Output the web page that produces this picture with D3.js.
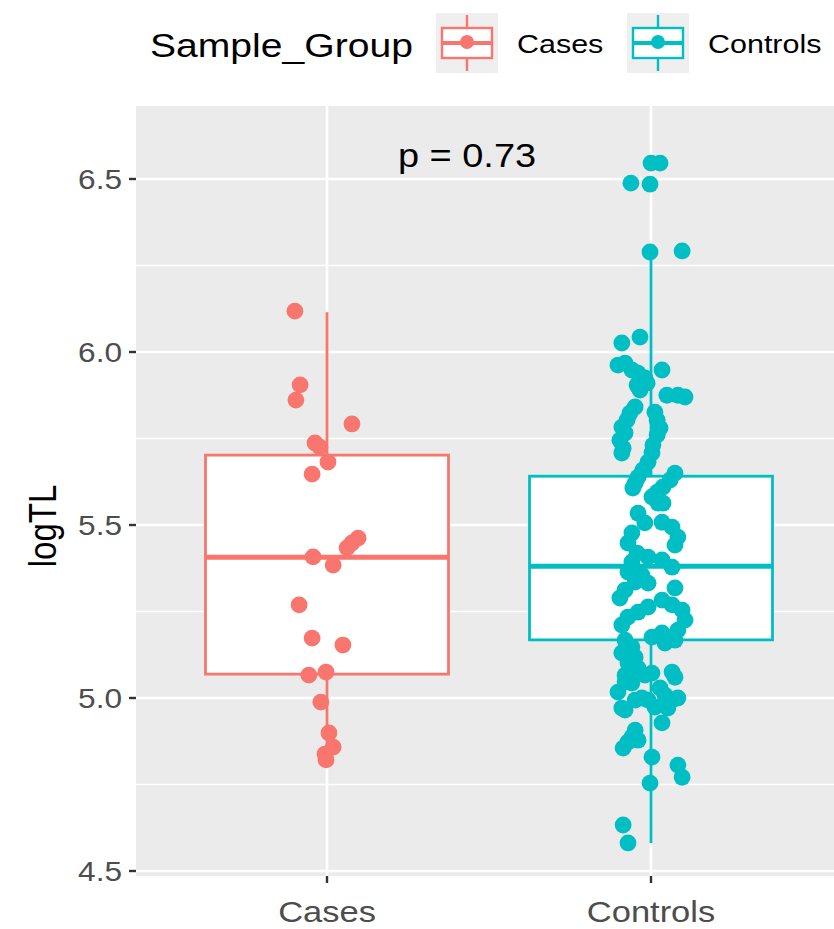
<!DOCTYPE html>
<html>
<head>
<meta charset="utf-8">
<script src="https://cdn.jsdelivr.net/npm/d3@7"></script>
<style>
  html, body { margin: 0; padding: 0; background: #ffffff; }
  svg { display: block; font-family: "Liberation Sans", Arial, sans-serif; }
</style>
</head>
<body>
<svg id="chart" width="834" height="929"></svg>
<script>
// ---------------- data ----------------
const categories = ["Cases", "Controls"];
const groupColors = ["#F8766D", "#00BFC4"];
const legendTitle = "Sample_Group";
const yLabel = "logTL";
const pLabel = "p = 0.73";
const yMajorTicks = [4.5, 5.0, 5.5, 6.0, 6.5];
const yMinorTicks = [4.75, 5.25, 5.75, 6.25];

// box statistics
const boxQ1 = [5.069, 5.168];
const boxMedian = [5.407, 5.381];
const boxQ3 = [5.702, 5.641];
const whiskerLow = [4.821, 4.581];
const whiskerHigh = [6.115, 6.290];

// Cases points: value and horizontal jitter (category units)
const casesValues = [6.118, 5.905, 5.861, 5.792, 5.737, 5.725, 5.682, 5.647, 5.462, 5.448, 5.434, 5.408,
  5.384, 5.269, 5.173, 5.153, 5.066, 5.075, 4.988, 4.899, 4.858, 4.838, 4.821];
const casesJitter = [-0.099, -0.083, -0.096, 0.077, -0.037, -0.022, 0.003, -0.046, 0.096, 0.077, 0.062, -0.043,
  0.019, -0.086, -0.046, 0.049, -0.056, -0.003, -0.019, 0.006, 0.019, -0.006, -0.003];

// Controls points
const controlsValues = [6.546, 6.546, 6.488, 6.485, 6.289, 6.292, 6.026, 6.043, 5.962, 5.968,
  5.948, 5.939, 5.925, 5.904, 5.948, 5.910, 5.890, 5.875, 5.875, 5.870,
  5.841, 5.823, 5.803, 5.783, 5.766, 5.745, 5.722, 5.708, 5.826, 5.803,
  5.780, 5.760, 5.731, 5.708, 5.682, 5.659, 5.638, 5.621, 5.607, 5.650,
  5.630, 5.610, 5.595, 5.581, 5.563, 5.534, 5.563, 5.506, 5.477, 5.448,
  5.508, 5.494, 5.465, 5.442, 5.419, 5.393, 5.407, 5.399, 5.378, 5.364,
  5.355, 5.332, 5.335, 5.312, 5.289, 5.318, 5.283, 5.269, 5.254, 5.263,
  5.248, 5.234, 5.211, 5.225, 5.196, 5.188, 5.176, 5.167, 5.147, 5.130,
  5.159, 5.167, 5.118, 5.101, 5.086, 5.066, 5.066, 5.072, 5.075, 5.060,
  5.017, 5.046, 5.043, 4.994, 5.000, 4.994, 5.029, 5.008, 4.994, 5.000,
  4.971, 4.965, 4.974, 4.971, 4.928, 4.907, 4.887, 4.873, 4.855, 4.878,
  4.829, 4.806, 4.771, 4.754, 4.633, 4.581];
const controlsJitter = [0.000, 0.028, -0.062, -0.003, -0.003, 0.096, -0.090, -0.034, -0.102, -0.080,
  -0.059, -0.040, -0.019, -0.043, 0.034, -0.012, -0.034, 0.049, 0.083, 0.105,
  -0.049, -0.065, -0.074, -0.090, -0.080, -0.096, -0.086, -0.090, 0.012, 0.019,
  0.028, 0.019, 0.006, 0.003, -0.009, -0.025, -0.040, -0.049, -0.056, 0.074,
  0.059, 0.037, 0.019, 0.003, 0.037, -0.040, 0.022, -0.019, -0.059, -0.071,
  0.034, 0.065, 0.083, 0.074, -0.043, -0.059, -0.009, 0.034, 0.065, -0.071,
  -0.028, -0.009, -0.049, -0.080, -0.096, 0.074, 0.034, 0.065, 0.096, -0.009,
  -0.040, -0.071, -0.090, 0.105, 0.083, 0.034, 0.003, -0.080, -0.059, -0.090,
  0.043, 0.074, -0.049, -0.071, -0.040, -0.080, -0.019, 0.003, 0.065, 0.074,
  -0.102, -0.080, -0.059, -0.049, -0.028, -0.009, 0.028, 0.043, 0.065, 0.083,
  -0.090, -0.080, 0.012, 0.052, 0.034, -0.049, -0.059, -0.071, -0.086, -0.040,
  0.003, 0.083, 0.096, -0.003, -0.086, -0.071];

// ---------------- layout ----------------
const svg = d3.select("#chart");
const panel = { left: 136, right: 834, top: 106, bottom: 876 };
const SX = 1.15;             // horizontal stretch of the original picture's text
const boxWidth = 0.75;       // category units

const x = d3.scaleLinear().domain([1, 2]).range([327, 651]);
const y = d3.scaleLinear().domain([4.5, 6.5]).range([871, 179]);
const xc = d3.scaleOrdinal().domain(categories).range([1, 2]);
const color = d3.scaleOrdinal().domain(categories).range(groupColors);

// panel background
svg.append("rect")
  .attr("x", panel.left).attr("y", panel.top)
  .attr("width", panel.right - panel.left).attr("height", panel.bottom - panel.top)
  .attr("fill", "#EBEBEB");

const grid = svg.append("g");
grid.selectAll("line.minor").data(yMinorTicks).join("line")
  .attr("x1", panel.left).attr("x2", panel.right)
  .attr("y1", d => y(d)).attr("y2", d => y(d))
  .attr("stroke", "#ffffff").attr("stroke-width", 1.3);
grid.selectAll("line.major").data(yMajorTicks).join("line")
  .attr("x1", panel.left).attr("x2", panel.right)
  .attr("y1", d => y(d)).attr("y2", d => y(d))
  .attr("stroke", "#ffffff").attr("stroke-width", 2.6);
grid.selectAll("line.vmajor").data(categories).join("line")
  .attr("x1", d => x(xc(d))).attr("x2", d => x(xc(d)))
  .attr("y1", panel.top).attr("y2", panel.bottom)
  .attr("stroke", "#ffffff").attr("stroke-width", 2.6);

// boxplots
const boxes = svg.append("g");
categories.forEach((c, i) => {
  const cx = x(xc(c));
  const hw = (x(1 + boxWidth / 2) - x(1));
  const col = color(c);
  const g = boxes.append("g");
  g.append("line").attr("x1", cx).attr("x2", cx)
    .attr("y1", y(boxQ3[i])).attr("y2", y(whiskerHigh[i]))
    .attr("stroke", col).attr("stroke-width", 2.8);
  g.append("line").attr("x1", cx).attr("x2", cx)
    .attr("y1", y(boxQ1[i])).attr("y2", y(whiskerLow[i]))
    .attr("stroke", col).attr("stroke-width", 2.8);
  g.append("rect")
    .attr("x", cx - hw).attr("width", 2 * hw)
    .attr("y", y(boxQ3[i])).attr("height", y(boxQ1[i]) - y(boxQ3[i]))
    .attr("fill", "#ffffff").attr("stroke", col).attr("stroke-width", 2.8);
  g.append("line").attr("x1", cx - hw).attr("x2", cx + hw)
    .attr("y1", y(boxMedian[i])).attr("y2", y(boxMedian[i]))
    .attr("stroke", col).attr("stroke-width", 5);
});

// jittered points
const pts = svg.append("g");
const allPoints = [
  ...casesValues.map((v, i) => ({ g: "Cases", v, j: casesJitter[i] })),
  ...controlsValues.map((v, i) => ({ g: "Controls", v, j: controlsJitter[i] }))
];
pts.selectAll("circle").data(allPoints).join("circle")
  .attr("cx", d => x(xc(d.g) + d.j))
  .attr("cy", d => y(d.v))
  .attr("r", 8.4)
  .attr("fill", d => color(d.g));

// p-value label
svg.append("text")
  .attr("transform", `translate(${(x(1) + x(2)) / 2 - 22},167) scale(${SX},1)`)
  .attr("text-anchor", "middle")
  .attr("font-size", 33).attr("fill", "#000000")
  .text(pLabel);

// y axis ticks and labels
const yAxis = svg.append("g");
yAxis.selectAll("line").data(yMajorTicks).join("line")
  .attr("x1", panel.left - 7).attr("x2", panel.left)
  .attr("y1", d => y(d)).attr("y2", d => y(d))
  .attr("stroke", "#333333").attr("stroke-width", 2.4);
yAxis.selectAll("text").data(yMajorTicks).join("text")
  .attr("transform", d => `translate(${panel.left - 14},${y(d) + 10}) scale(${SX},1)`)
  .attr("text-anchor", "end")
  .attr("font-size", 27.5).attr("fill", "#4D4D4D")
  .text(d => d3.format(".1f")(d));

// x axis ticks and labels
const xAxis = svg.append("g");
xAxis.selectAll("line").data(categories).join("line")
  .attr("x1", d => x(xc(d))).attr("x2", d => x(xc(d)))
  .attr("y1", panel.bottom).attr("y2", panel.bottom + 7)
  .attr("stroke", "#333333").attr("stroke-width", 2.4);
xAxis.selectAll("text").data(categories).join("text")
  .attr("transform", d => `translate(${x(xc(d))},${panel.bottom + 46}) scale(${SX},1)`)
  .attr("text-anchor", "middle")
  .attr("font-size", 30).attr("fill", "#4D4D4D")
  .text(d => d);

// y axis title
svg.append("text")
  .attr("transform", `translate(56,${(panel.top + panel.bottom) / 2 + 35}) rotate(-90) scale(1,${SX})`)
  .attr("text-anchor", "middle")
  .attr("font-size", 33).attr("fill", "#000000")
  .text(yLabel);

// legend
const legend = svg.append("g");
legend.append("text")
  .attr("transform", `translate(150,57) scale(${SX},1)`)
  .attr("font-size", 34).attr("fill", "#000000")
  .text(legendTitle);
const keyX = [436, 627];
const labX = [517, 708];
categories.forEach((c, i) => {
  const col = color(c);
  const kx = keyX[i], ky = 13, kw = 62, kh = 60;
  const g = legend.append("g");
  g.append("rect").attr("x", kx).attr("y", ky).attr("width", kw).attr("height", kh).attr("fill", "#EFEFEF");
  const cx = kx + kw / 2;
  g.append("line").attr("x1", cx).attr("x2", cx).attr("y1", ky + 2).attr("y2", ky + kh - 2)
    .attr("stroke", col).attr("stroke-width", 2.4);
  g.append("rect").attr("x", kx + 6).attr("y", ky + 15).attr("width", kw - 12).attr("height", kh - 30)
    .attr("fill", "#ffffff").attr("stroke", col).attr("stroke-width", 2.4);
  g.append("line").attr("x1", kx + 6).attr("x2", kx + kw - 6).attr("y1", ky + kh / 2).attr("y2", ky + kh / 2)
    .attr("stroke", col).attr("stroke-width", 4);
  g.append("circle").attr("cx", cx).attr("cy", ky + kh / 2 - 1).attr("r", 7).attr("fill", col);
  legend.append("text")
    .attr("transform", `translate(${labX[i]},53) scale(${SX},1)`)
    .attr("font-size", 26.5).attr("fill", "#000000")
    .text(c);
});
</script>
</body>
</html>
